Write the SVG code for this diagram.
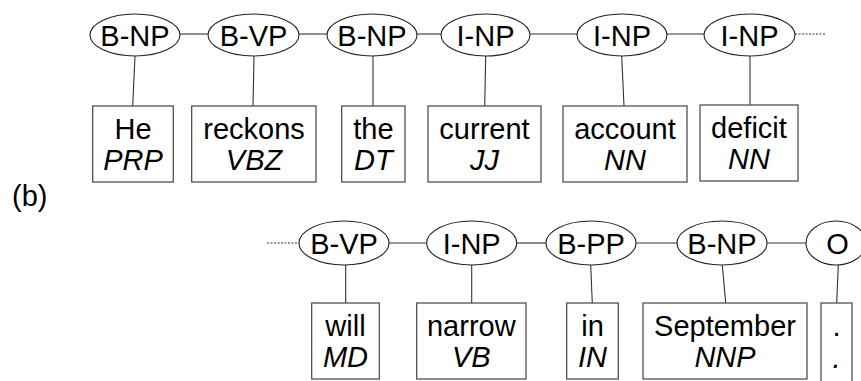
<svg xmlns="http://www.w3.org/2000/svg" width="861" height="381" viewBox="0 0 861 381">
<style>
text{font-family:"Liberation Sans",Arial,sans-serif;font-size:29px;fill:#000;text-anchor:middle}
.i{font-style:italic}
.e{fill:#fff;stroke:#222;stroke-width:1.1}
.b{fill:#fff;stroke:#444;stroke-width:1.2}
.c line{stroke:#333;stroke-width:1.1}
.d{stroke-dasharray:2 1.5}
</style>
<rect width="861" height="381" fill="#fff"/>
<g class="c" id="connectors">
<line x1="180" y1="34" x2="208" y2="34"/>
<line x1="299" y1="34" x2="327" y2="34"/>
<line x1="417" y1="34" x2="441" y2="34"/>
<line x1="530" y1="34" x2="577" y2="34"/>
<line x1="667" y1="34" x2="704" y2="34"/>
<line class="d" x1="795" y1="34" x2="825" y2="34"/>
<line x1="135" y1="56" x2="132.7" y2="106"/>
<line x1="254" y1="56" x2="253" y2="106"/>
<line x1="373" y1="56" x2="373" y2="106"/>
<line x1="485.7" y1="56" x2="484.7" y2="106"/>
<line x1="621.7" y1="56" x2="624" y2="106"/>
<line x1="750" y1="56" x2="750" y2="105"/>
<line class="d" x1="267" y1="243" x2="299" y2="243"/>
<line x1="389" y1="243" x2="427" y2="243"/>
<line x1="517" y1="243" x2="546" y2="243"/>
<line x1="636" y1="243" x2="677" y2="243"/>
<line x1="767" y1="243" x2="806" y2="243"/>
<line x1="345.7" y1="265" x2="345.7" y2="303"/>
<line x1="471.7" y1="265" x2="471.7" y2="303"/>
<line x1="590.7" y1="265" x2="592.3" y2="303"/>
<line x1="722.3" y1="265" x2="725.7" y2="303"/>
<line x1="838.3" y1="265" x2="836.7" y2="303"/>
</g>
<g id="t1"><ellipse class="e" cx="135" cy="35" rx="45" ry="21"/><text x="135" y="45.5">B-NP</text></g>
<g id="t2"><ellipse class="e" cx="253.5" cy="35" rx="45.5" ry="21"/><text x="253.5" y="45.5">B-VP</text></g>
<g id="t3"><ellipse class="e" cx="372" cy="35" rx="45" ry="21"/><text x="372" y="45.5">B-NP</text></g>
<g id="t4"><ellipse class="e" cx="485.5" cy="35" rx="44.5" ry="21"/><text x="485.5" y="45.5">I-NP</text></g>
<g id="t5"><ellipse class="e" cx="622" cy="35" rx="45" ry="21"/><text x="622" y="45.5">I-NP</text></g>
<g id="t6"><ellipse class="e" cx="749.5" cy="35" rx="45.5" ry="21"/><text x="749.5" y="45.5">I-NP</text></g>
<g id="w1"><rect class="b" x="92.7" y="106" width="80.6" height="76"/><text x="133" y="139">He</text><text class="i" x="133" y="170">PRP</text></g>
<g id="w2"><rect class="b" x="191.7" y="106" width="124.3" height="76"/><text x="254" y="139">reckons</text><text class="i" x="254" y="170">VBZ</text></g>
<g id="w3"><rect class="b" x="341.7" y="106" width="63.3" height="76"/><text x="373.4" y="139">the</text><text class="i" x="373.4" y="170">DT</text></g>
<g id="w4"><rect class="b" x="428" y="106" width="113" height="76"/><text x="484.5" y="139">current</text><text class="i" x="484.5" y="170">JJ</text></g>
<g id="w5"><rect class="b" x="563" y="106" width="124" height="76"/><text x="625" y="139">account</text><text class="i" x="625" y="170">NN</text></g>
<g id="w6"><rect class="b" x="700" y="105" width="98" height="76"/><text x="749" y="138">deficit</text><text class="i" x="749" y="169">NN</text></g>
<text id="label-b" x="12" y="206" style="text-anchor:start">(b)</text>
<g id="t7"><ellipse class="e" cx="344" cy="243" rx="45" ry="22"/><text x="344" y="253.5">B-VP</text></g>
<g id="t8"><ellipse class="e" cx="471.7" cy="243" rx="45" ry="22"/><text x="471.7" y="253.5">I-NP</text></g>
<g id="t9"><ellipse class="e" cx="591" cy="243" rx="45" ry="22"/><text x="591" y="253.5">B-PP</text></g>
<g id="t10"><ellipse class="e" cx="722" cy="243" rx="45" ry="22"/><text x="722" y="253.5">B-NP</text></g>
<g id="t11"><ellipse class="e" cx="836" cy="243" rx="30" ry="22"/><text x="837.5" y="253.5">O</text></g>
<g id="w7"><rect class="b" x="311.7" y="303" width="67.6" height="76"/><text x="345.5" y="336">will</text><text class="i" x="345.5" y="367">MD</text></g>
<g id="w8"><rect class="b" x="416.7" y="303" width="109.3" height="76"/><text x="471.3" y="336">narrow</text><text class="i" x="471.3" y="367">VB</text></g>
<g id="w9"><rect class="b" x="566.7" y="303" width="51.6" height="76"/><text x="592.5" y="336">in</text><text class="i" x="592.5" y="367">IN</text></g>
<g id="w10"><rect class="b" x="643" y="303" width="164" height="76"/><text x="725" y="336">September</text><text class="i" x="725" y="367">NNP</text></g>
<g id="w11"><rect class="b" x="821" y="303" width="31" height="90"/><text x="836.5" y="336">.</text><text class="i" x="836.5" y="368">.</text></g>
</svg>
